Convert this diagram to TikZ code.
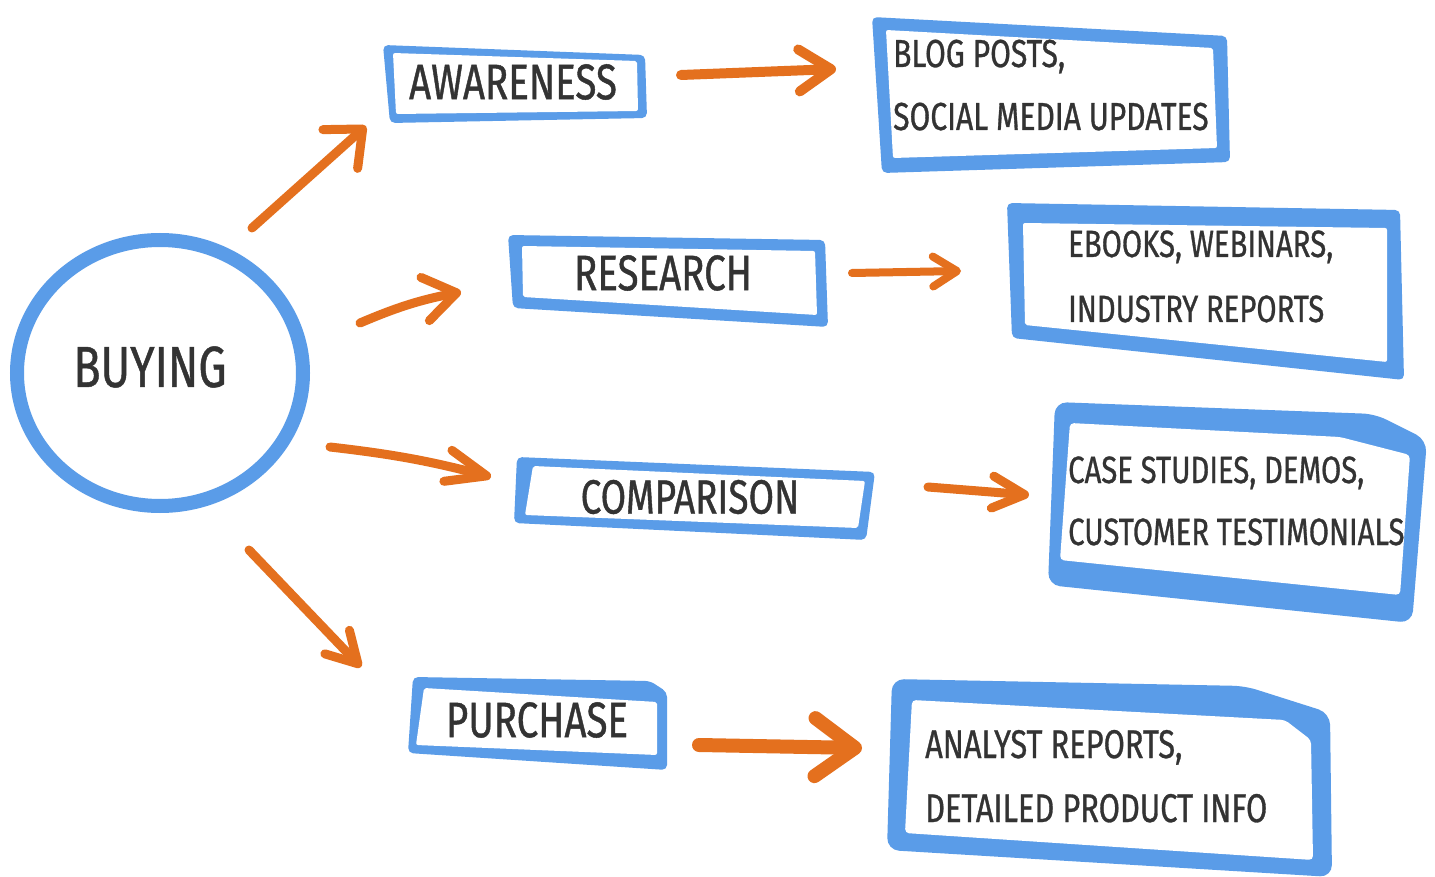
\documentclass[tikz,border=0pt]{standalone}
\usepackage{fontspec}
\newfontfamily\hand[FakeStretch=0.77,FakeBold=0.8]{Fira Sans}
\usetikzlibrary{arrows.meta}
\definecolor{bblue}{HTML}{5A9CE8}
\definecolor{oorange}{HTML}{E4701E}
\definecolor{ink}{HTML}{333333}
\begin{document}
\begin{tikzpicture}[x=1pt,y=-1pt,
  frame/.style={fill=bblue, rounded corners=5pt},
  hole/.style={fill=white, rounded corners=2pt},
  lbl/.style={text=ink, inner sep=0pt, font=\hand\fontsize{#1}{#1}\selectfont},
  arr/.style={draw=oorange, line width=9pt, line cap=round},
  hd/.style 2 args={-{Straight Barb[length=#1 0,width=#2 0,round]}},
]
\useasboundingbox[fill=white] (0,0) rectangle (1435,877);

% central circle
\draw[bblue, line width=14pt] (160,373) ellipse [x radius=143, y radius=133];
\node[lbl=58] (buying) at (150,367) {BUYING};

% stage boxes
\fill[frame] (383,45) -- (645,55) -- (647,118) -- (390,123) -- cycle;
\fill[hole] (393,53) -- (637,61) -- (638,111) -- (396,114) -- cycle;
\node[lbl=50] (aw) at (513,82) {AWARENESS};

\fill[frame] (508,235) -- (825,240) -- (828,327) -- (513,308) -- cycle;
\fill[hole] (522,246) -- (815,251) -- (817,315) -- (523,297) -- cycle;
\node[lbl=50] (re) at (663,273) {RESEARCH};

\fill[frame] (517,457) -- (875,472) -- (866,540) -- (514,523) -- cycle;
\fill[hole] (533,466) -- (865,481) -- (858,528) -- (525,515) -- cycle;
\node[lbl=48] (co) at (690,497) {COMPARISON};

\fill[frame] (413,677) -- (650,681) -- (667,692) -- (667,770) -- (408,753) -- cycle;
\fill[hole] (424,688) -- (657,702) -- (657,755) -- (416,745) -- cycle;
\node[lbl=50] (pu) at (537,720) {PURCHASE};

% content boxes
\fill[frame] (872,17) -- (1227,36) -- (1230,162) -- (882,173) -- cycle;
\fill[hole] (886,30) -- (1213,48) -- (1217,148) -- (893,158) -- cycle;
\node[lbl=39, anchor=base west] (b1a) at (893,67) {BLOG POSTS,};
\node[lbl=39, anchor=base west] (b1b) at (893,130) {SOCIAL MEDIA UPDATES};

\fill[frame] (1007,203) -- (1400,210) -- (1404,380) -- (1012,338) -- cycle;
\fill[hole] (1023,223) -- (1387,228) -- (1387,362) -- (1025,325) -- cycle;
\node[lbl=38, anchor=base west] (b2a) at (1068,257) {EBOOKS, WEBINARS,};
\node[lbl=38, anchor=base west] (b2b) at (1068,322) {INDUSTRY REPORTS};

\fill[frame, rounded corners=12pt] (1055,402) -- (1375,414) -- (1427,440) -- (1412,623) -- (1048,585) -- cycle;
\fill[hole, rounded corners=4pt] (1070,423) -- (1340,437) -- (1410,455) -- (1400,595) -- (1060,560) -- cycle;
\node[lbl=38, anchor=base west] (b3a) at (1068,483) {CASE STUDIES, DEMOS,};
\node[lbl=38, anchor=base west] (b3b) at (1068,545) {CUSTOMER TESTIMONIALS};

\fill[frame, rounded corners=12pt] (892,679) -- (1245,686) -- (1330,713) -- (1332,877) -- (887,850) -- cycle;
\fill[hole, rounded corners=4pt] (912,700) -- (1285,720) -- (1311,740) -- (1313,860) -- (905,833) -- cycle;
\node[lbl=40, anchor=base west] (b4a) at (925,758) {ANALYST REPORTS,};
\node[lbl=40, anchor=base west] (b4b) at (925,822) {DETAILED PRODUCT INFO};

% arrow end points
\coordinate (a1s) at (252,228); \coordinate (a1e) at (366,126);
\coordinate (a2s) at (360,323); \coordinate (a2e) at (461,292);
\coordinate (a3s) at (330,447); \coordinate (a3e) at (491,477);
\coordinate (a4s) at (249,550); \coordinate (a4e) at (361,667);
\coordinate (a5s) at (681,75);  \coordinate (a5e) at (836,69);
\coordinate (a6s) at (852,273); \coordinate (a6e) at (961,271);
\coordinate (a7s) at (928,487); \coordinate (a7e) at (1029,495);
\coordinate (a8s) at (699,745); \coordinate (a8e) at (862,748);

\draw[arr, hd={30pt}{52pt}] (a1s) -- (a1e);
\draw[arr, hd={32pt}{44pt}] (a2s) to[bend left=6] (a2e);
\draw[arr, hd={40pt}{32pt}] (a3s) to[bend left=4] (a3e);
\draw[arr, hd={30pt}{34pt}] (a4s) -- (a4e);
\draw[arr, line width=10pt, hd={32pt}{42pt}] (a5s) -- (a5e);
\draw[arr, line width=8pt, hd={24pt}{30pt}] (a6s) -- (a6e);
\draw[arr, hd={32pt}{32pt}] (a7s) -- (a7e);
\draw[arr, line width=14pt, hd={40pt}{58pt}] (a8s) -- (a8e);
\end{tikzpicture}
\end{document}
